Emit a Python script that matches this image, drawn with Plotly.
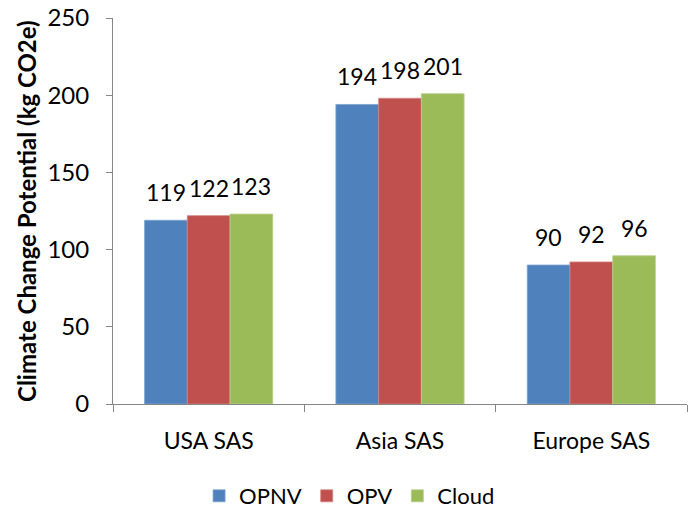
import plotly.graph_objects as go

categories = ["USA SAS", "Asia SAS", "Europe SAS"]
opnv = [119, 194, 90]
opv = [122, 198, 92]
cloud = [123, 201, 96]
series_names = ["OPNV", "OPV", "Cloud"]
colors = ["#4F81BD", "#C0504D", "#9BBB59"]
edge_colors = ["#7FA3CF", "#D48482", "#B9D08A"]
y_ticks = [0, 50, 100, 150, 200, 250]

FONT = "Lato"
W, H = 695, 508
ML, MR, MT, MB = 113, 8, 18, 104
BARGAP = 0.33
plot_w = W - ML - MR
bar_px = plot_w / len(categories) * (1 - BARGAP) / len(series_names)

fig = go.Figure()
all_vals = [opnv, opv, cloud]
for name, vals, c, ec in zip(series_names, all_vals, colors, edge_colors):
    fig.add_trace(go.Bar(
        x=categories, y=vals, name=name,
        marker=dict(color=c, line=dict(color=ec, width=0.8)),
        cliponaxis=False,
    ))

# data labels above bars
for j, vals in enumerate(all_vals):
    for cat, v in zip(categories, vals):
        fig.add_annotation(
            x=cat, y=v, xref="x", yref="y", text=str(v), showarrow=False,
            xshift=(j - 1) * bar_px, yanchor="bottom", yshift=12,
            font=dict(family=FONT, size=23, color="#000000"),
        )

fig.add_annotation(
    text="<b>Climate Change Potential (kg CO2e)</b>", textangle=-90,
    xref="paper", yref="paper", x=(26 - ML) / plot_w, y=0.5,
    xanchor="center", yanchor="middle", showarrow=False,
    font=dict(family=FONT, size=24, color="#000000"),
)

fig.update_layout(
    width=W, height=H,
    barmode="group", bargap=BARGAP, bargroupgap=0,
    paper_bgcolor="white", plot_bgcolor="white",
    margin=dict(l=ML, r=MR, t=MT, b=MB),
    font=dict(family=FONT, size=23, color="#000000"),
    showlegend=True,
    legend=dict(orientation="h", xref="container", x=0.503, xanchor="center",
                yref="container", y=(H - 496) / H, yanchor="middle",
                font=dict(family=FONT, size=22), itemwidth=30,
                traceorder="normal"),
)
fig.update_yaxes(
    range=[0, 250], tickvals=y_ticks, showgrid=False, zeroline=False,
    showline=True, linecolor="#868686", linewidth=1, automargin=False,
    ticks="outside", ticklen=6, tickcolor="#868686",
    tickfont=dict(family=FONT, size=24), ticklabelstandoff=12,
    ticklabeloverflow="allow",
)
fig.update_xaxes(
    showgrid=False, showline=True, linecolor="#868686", linewidth=1,
    automargin=False,
    ticks="outside", ticklen=7, tickcolor="#868686", tickson="boundaries",
    tickfont=dict(family=FONT, size=23), ticklabelstandoff=16,
    ticklabeloverflow="allow",
)
fig.write_html("out.html", config={"displayModeBar": False},
               post_script="document.body.style.margin='0';")
